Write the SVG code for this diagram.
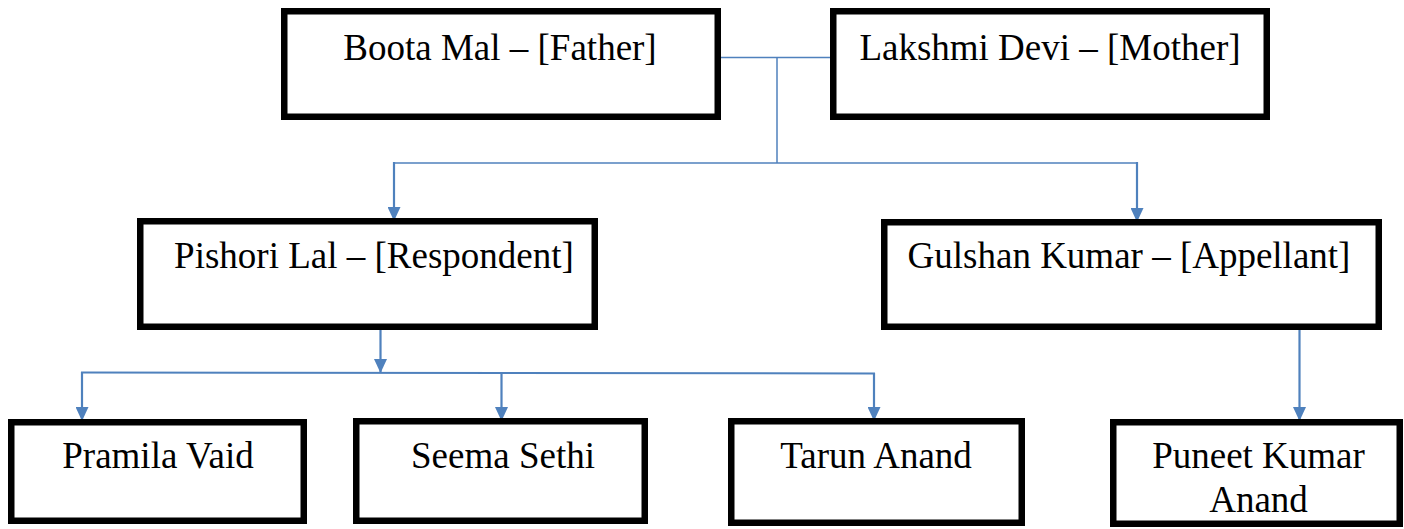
<svg xmlns="http://www.w3.org/2000/svg" width="1404" height="529" viewBox="0 0 1404 529">
  <style>
    .box { fill: #ffffff; stroke: #000000; stroke-width: 6.5; }
    .lbl { font-family: "Liberation Serif", "Times New Roman", serif; font-size: 37px; fill: #000000; text-anchor: middle; }
    .conn { fill: none; stroke: #4F81BD; stroke-width: 2; }
    .thin { fill: none; stroke: #4F81BD; stroke-width: 1.5; }
    .arr { fill: none; stroke: #4F81BD; stroke-width: 2.2; marker-end: url(#ah); }
  </style>
  <defs>
    <marker id="ah" markerUnits="userSpaceOnUse" markerWidth="14" markerHeight="13" refX="14" refY="6.5" orient="auto">
      <path d="M0,0 L14,6.5 L0,13 z" fill="#4F81BD"/>
    </marker>
  </defs>
  <rect width="1404" height="529" fill="#ffffff"/>

  <g id="connectors">
    <line class="thin" x1="721" y1="57.5" x2="830" y2="57.5"/>
    <line class="thin" x1="777" y1="57.5" x2="777" y2="163"/>
    <line class="thin" x1="393.5" y1="163" x2="1137" y2="163"/>
    <line class="arr" x1="394" y1="162" x2="394" y2="221"/>
    <line class="arr" x1="1137" y1="162" x2="1137" y2="222"/>
    <line class="arr" x1="380.5" y1="330" x2="380.5" y2="373"/>
    <line class="conn" x1="81" y1="372.5" x2="875" y2="373.5"/>
    <line class="arr" x1="82" y1="372" x2="82" y2="421"/>
    <line class="arr" x1="501.5" y1="373" x2="501.5" y2="421"/>
    <line class="arr" x1="874" y1="373" x2="874" y2="421"/>
    <line class="arr" x1="1299.5" y1="330" x2="1299.5" y2="421"/>
  </g>

  <g id="boota">
    <rect class="box" x="284.25" y="11.25" width="433.5" height="105.5"/>
    <text class="lbl" x="500" y="60">Boota Mal – [Father]</text>
  </g>
  <g id="lakshmi">
    <rect class="box" x="833.25" y="11.25" width="433.5" height="105.5"/>
    <text class="lbl" x="1050" y="60">Lakshmi Devi – [Mother]</text>
  </g>
  <g id="pishori">
    <rect class="box" x="140.25" y="221.25" width="454.5" height="105.5"/>
    <text class="lbl" x="374" y="268">Pishori Lal – [Respondent]</text>
  </g>
  <g id="gulshan">
    <rect class="box" x="884.25" y="222.25" width="494.5" height="104.5"/>
    <text class="lbl" x="1129" y="268">Gulshan Kumar – [Appellant]</text>
  </g>
  <g id="pramila">
    <rect class="box" x="11.25" y="422.25" width="292.5" height="98.5"/>
    <text class="lbl" x="158" y="468">Pramila Vaid</text>
  </g>
  <g id="seema">
    <rect class="box" x="356.25" y="421.25" width="288.5" height="99.5"/>
    <text class="lbl" x="503" y="468">Seema Sethi</text>
  </g>
  <g id="tarun">
    <rect class="box" x="731.25" y="421.25" width="290.5" height="101.5"/>
    <text class="lbl" x="876" y="468">Tarun Anand</text>
  </g>
  <g id="puneet">
    <rect class="box" x="1113.25" y="422.25" width="286.5" height="101.5"/>
    <text class="lbl" x="1258.5" y="468">Puneet Kumar</text>
    <text class="lbl" x="1258.5" y="512">Anand</text>
  </g>
</svg>
